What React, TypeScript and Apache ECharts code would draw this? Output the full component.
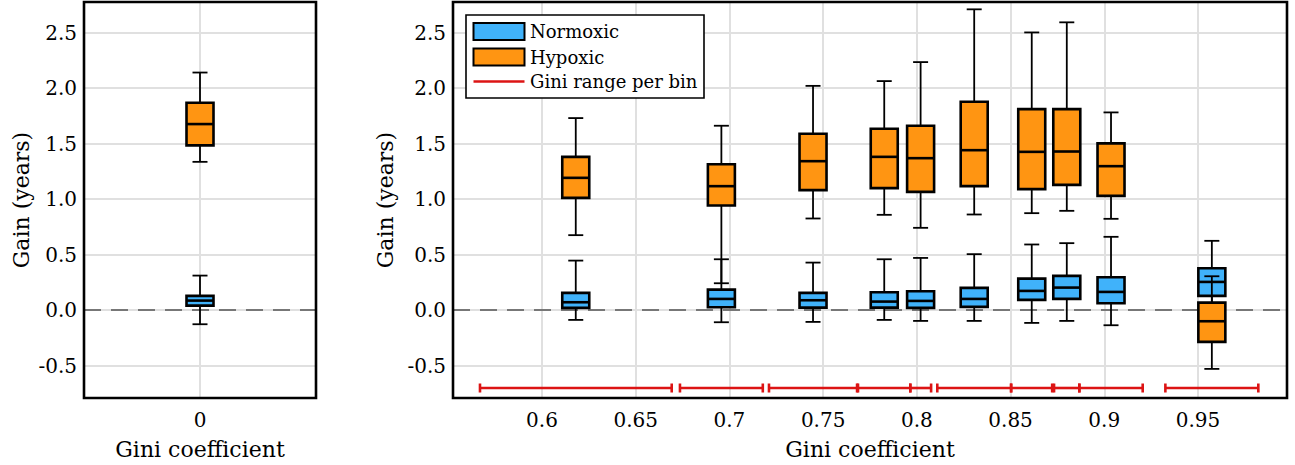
import React, { useEffect, useRef } from "react";
import * as echarts from "echarts";

// ---- data ----
const Y_MIN = -0.79;
const Y_MAX = 2.775;
const X_MIN = 0.5525;
const X_MAX = 0.9975;

// Gini range per bin (lower / upper edge) and box centres
const BIN_LO = [0.5669, 0.6736, 0.7211, 0.7686, 0.7965, 0.8109, 0.8503, 0.8732, 0.8867, 0.9326];
const BIN_HI = [0.6692, 0.7178, 0.7681, 0.7965, 0.8076, 0.8503, 0.8722, 0.8867, 0.9205, 0.9822];
const GINI_CENTRE = [0.618, 0.6957, 0.7446, 0.7826, 0.802, 0.8306, 0.8613, 0.88, 0.9036, 0.9574];
const RANGE_Y = -0.7;

// [whisker low, q1, median, q3, whisker high]
const NORMOXIC = [
  [-0.087, 0.021, 0.072, 0.156, 0.447],
  [-0.108, 0.027, 0.102, 0.186, 0.459],
  [-0.105, 0.024, 0.09, 0.156, 0.429],
  [-0.087, 0.024, 0.078, 0.162, 0.459],
  [-0.096, 0.021, 0.084, 0.171, 0.471],
  [-0.096, 0.03, 0.102, 0.201, 0.505],
  [-0.114, 0.093, 0.174, 0.285, 0.592],
  [-0.096, 0.102, 0.204, 0.309, 0.604],
  [-0.135, 0.063, 0.165, 0.297, 0.661],
  [0.01, 0.129, 0.255, 0.378, 0.625],
];
const HYPOXIC = [
  [0.676, 1.012, 1.192, 1.381, 1.73],
  [0.243, 0.943, 1.117, 1.315, 1.661],
  [0.826, 1.081, 1.342, 1.589, 2.02],
  [0.859, 1.099, 1.381, 1.634, 2.063],
  [0.742, 1.066, 1.369, 1.661, 2.234],
  [0.862, 1.117, 1.441, 1.877, 2.709],
  [0.874, 1.09, 1.426, 1.811, 2.501],
  [0.895, 1.129, 1.429, 1.811, 2.592],
  [0.823, 1.03, 1.297, 1.502, 1.781],
  [-0.528, -0.285, -0.099, 0.069, 0.306],
];
// Gini coefficient = 0 (left panel)
const ZERO_NORMOXIC = [-0.126, 0.042, 0.087, 0.129, 0.312];
const ZERO_HYPOXIC = [1.336, 1.484, 1.676, 1.868, 2.14];

// ---- styles ----
const BLUE = "#40b2fa";
const ORANGE = "#ff9512";
const RED = "#dc1414";
const FONT = "DejaVu Serif";
const GRID_COLOR = "#e0e0e0";

const boxRender = (fill: string) => (params: any, api: any) => {
  const x = api.value(0);
  const pLow = api.coord([x, api.value(1)]);
  const pQ1 = api.coord([x, api.value(2)]);
  const pMed = api.coord([x, api.value(3)]);
  const pQ3 = api.coord([x, api.value(4)]);
  const pHigh = api.coord([x, api.value(5)]);
  const cx = pMed[0];
  const w = 27;
  const cw = 15;
  const ws = { stroke: "#000", lineWidth: 1.8 };
  const bs = { stroke: "#000", lineWidth: 2.6 };
  return {
    type: "group",
    children: [
      { type: "line", shape: { x1: cx, y1: pLow[1], x2: cx, y2: pQ1[1] }, style: ws },
      { type: "line", shape: { x1: cx, y1: pQ3[1], x2: cx, y2: pHigh[1] }, style: ws },
      { type: "line", shape: { x1: cx - cw / 2, y1: pLow[1], x2: cx + cw / 2, y2: pLow[1] }, style: ws },
      { type: "line", shape: { x1: cx - cw / 2, y1: pHigh[1], x2: cx + cw / 2, y2: pHigh[1] }, style: ws },
      {
        type: "rect",
        shape: { x: cx - w / 2, y: pQ3[1], width: w, height: pQ1[1] - pQ3[1] },
        style: { fill, ...bs },
      },
      { type: "line", shape: { x1: cx - w / 2, y1: pMed[1], x2: cx + w / 2, y2: pMed[1] }, style: bs },
    ],
  };
};

const rangeRender = (params: any, api: any) => {
  const a = api.coord([api.value(0), api.value(2)]);
  const b = api.coord([api.value(1), api.value(2)]);
  const s = { stroke: RED, lineWidth: 2.6 };
  const h = 4.5;
  return {
    type: "group",
    children: [
      { type: "line", shape: { x1: a[0], y1: a[1], x2: b[0], y2: b[1] }, style: s },
      { type: "line", shape: { x1: a[0], y1: a[1] - h, x2: a[0], y2: a[1] + h }, style: s },
      { type: "line", shape: { x1: b[0], y1: b[1] - h, x2: b[0], y2: b[1] + h }, style: s },
    ],
  };
};

const yAxisBase = (gridIndex: number) => ({
  type: "value",
  gridIndex,
  min: Y_MIN,
  max: Y_MAX,
  splitNumber: 7,
  axisLine: { show: false },
  axisTick: { show: false },
  axisLabel: {
    formatter: (v: number) => v.toFixed(1),
    showMinLabel: false,
    showMaxLabel: false,
    fontFamily: FONT,
    fontSize: 20,
    color: "#000",
    margin: 7,
  },
  splitLine: { show: true, lineStyle: { color: GRID_COLOR, width: 2 } },
  name: "Gain (years)",
  nameLocation: "middle",
  nameGap: 52,
  nameTextStyle: { fontFamily: FONT, fontSize: 22, color: "#000" },
});

const xAxisBase = (gridIndex: number) => ({
  type: "value",
  gridIndex,
  axisLine: { show: false },
  axisTick: { show: false },
  splitLine: { show: true, lineStyle: { color: GRID_COLOR, width: 2 } },
  name: "Gini coefficient",
  nameLocation: "middle",
  nameGap: 40,
  nameTextStyle: { fontFamily: FONT, fontSize: 22, color: "#000" },
});

const xLabel = (formatter: (v: number) => string) => ({
  showMinLabel: false,
  showMaxLabel: false,
  formatter,
  fontFamily: FONT,
  fontSize: 20,
  color: "#000",
  margin: 12,
});

const zeroLine = {
  silent: true,
  symbol: "none",
  z: 1,
  label: { show: false },
  lineStyle: { color: "#777", width: 2, type: [17, 10] },
  data: [{ yAxis: 0 }],
};

const frame = (x: number, w: number) => ({
  type: "rect",
  z: 100,
  silent: true,
  shape: { x, y: 2, width: w, height: 396 },
  style: { fill: "none", stroke: "#000", lineWidth: 2.6 },
});

export default function App() {
  const ref = useRef<HTMLDivElement>(null);
  useEffect(() => {
    document.body.style.margin = "0";
    if (!ref.current) return;
    const chart = echarts.init(ref.current, undefined, { renderer: "svg" });
    const rows = (stats: number[][]) => stats.map((s, i) => [GINI_CENTRE[i], ...s]);
    const ranges = BIN_LO.map((lo, i) => [lo, BIN_HI[i], RANGE_Y]);
    const legendFont = `18px "${FONT}"`;
    const LX = 466;
    const LY = 15;
    chart.setOption({
      animation: false,
      backgroundColor: "#fff",
      grid: [
        { left: 84, top: 2, width: 232, height: 396 },
        { left: 453, top: 2, width: 834, height: 396 },
      ],
      xAxis: [
        {
          ...xAxisBase(0),
          min: -1,
          max: 1,
          splitNumber: 2,
          axisLabel: xLabel((v: number) => String(v)),
        },
        {
          ...xAxisBase(1),
          min: X_MIN,
          max: X_MAX,
          splitNumber: 9,
          axisLabel: xLabel((v: number) => String(+v.toFixed(2))),
        },
      ],
      yAxis: [yAxisBase(0), yAxisBase(1)],
      series: [
        {
          type: "custom",
          name: "Normoxic",
          xAxisIndex: 0,
          yAxisIndex: 0,
          z: 2,
          encode: { x: 0, y: [1, 2, 3, 4, 5] },
          renderItem: boxRender(BLUE),
          data: [[0, ...ZERO_NORMOXIC]],
          markLine: zeroLine,
        },
        {
          type: "custom",
          name: "Hypoxic",
          xAxisIndex: 0,
          yAxisIndex: 0,
          z: 3,
          encode: { x: 0, y: [1, 2, 3, 4, 5] },
          renderItem: boxRender(ORANGE),
          data: [[0, ...ZERO_HYPOXIC]],
        },
        {
          type: "custom",
          name: "Normoxic",
          xAxisIndex: 1,
          yAxisIndex: 1,
          z: 2,
          encode: { x: 0, y: [1, 2, 3, 4, 5] },
          renderItem: boxRender(BLUE),
          data: rows(NORMOXIC),
          markLine: zeroLine,
        },
        {
          type: "custom",
          name: "Hypoxic",
          xAxisIndex: 1,
          yAxisIndex: 1,
          z: 3,
          encode: { x: 0, y: [1, 2, 3, 4, 5] },
          renderItem: boxRender(ORANGE),
          data: rows(HYPOXIC),
        },
        {
          type: "custom",
          name: "Gini range per bin",
          xAxisIndex: 1,
          yAxisIndex: 1,
          z: 3,
          encode: { x: [0, 1], y: 2 },
          renderItem: rangeRender,
          data: ranges,
        },
      ],
      graphic: [
        frame(84, 232),
        frame(453, 834),
        { type: "rect", z: 100, shape: { x: LX, y: LY, width: 238, height: 83 }, style: { fill: "#fff", stroke: "#000", lineWidth: 1.6 } },
        { type: "rect", z: 101, shape: { x: LX + 7.5, y: LY + 8, width: 51, height: 17 }, style: { fill: BLUE, stroke: "#000", lineWidth: 2 } },
        { type: "text", z: 101, x: LX + 64, y: LY + 16.5, style: { text: "Normoxic", font: legendFont, fill: "#000", verticalAlign: "middle" } },
        { type: "rect", z: 101, shape: { x: LX + 7.5, y: LY + 33.5, width: 51, height: 17 }, style: { fill: ORANGE, stroke: "#000", lineWidth: 2 } },
        { type: "text", z: 101, x: LX + 64, y: LY + 42, style: { text: "Hypoxic", font: legendFont, fill: "#000", verticalAlign: "middle" } },
        { type: "line", z: 101, shape: { x1: LX + 7.5, y1: LY + 66.5, x2: LX + 58.5, y2: LY + 66.5 }, style: { stroke: RED, lineWidth: 2.6 } },
        { type: "text", z: 101, x: LX + 64, y: LY + 66.5, style: { text: "Gini range per bin", font: legendFont, fill: "#000", verticalAlign: "middle" } },
      ],
    });
    return () => chart.dispose();
  }, []);
  return <div ref={ref} style={{ width: 1295, height: 465 }} />;
}
